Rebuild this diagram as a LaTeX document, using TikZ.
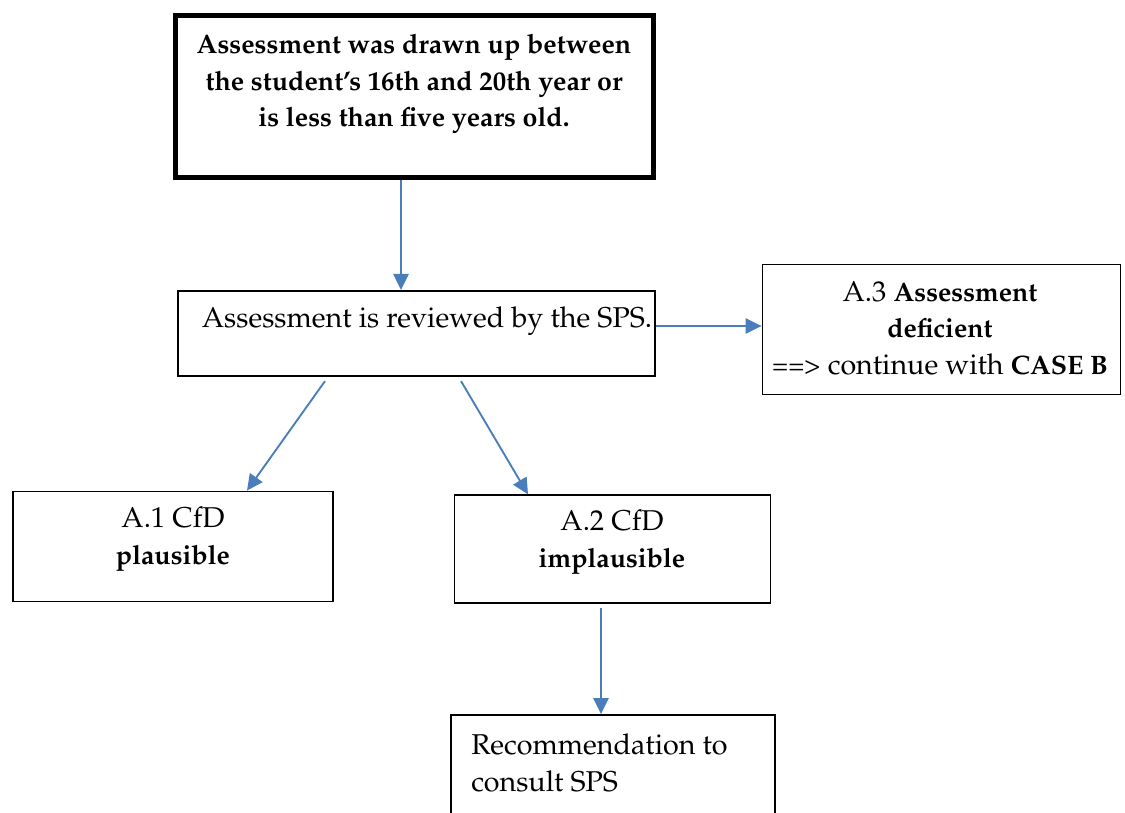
\documentclass[tikz,border=0pt]{standalone}
\usepackage[T1]{fontenc}
\usepackage{mathpazo}
\usepackage{xcolor}
\usetikzlibrary{arrows.meta, positioning, calc}
\definecolor{flowblue}{HTML}{4A7EBB}
\newcommand{\boldtxt}[1]{{\fontsize{20}{27.4}\selectfont\bfseries #1}}

\begin{document}
\begin{tikzpicture}[
    x=0.75pt, y=-0.75pt,
    box/.style={draw, rectangle, line width=1.4pt, inner sep=0pt},
    bigBox/.style={draw, rectangle, line width=3.6pt, inner sep=0pt},
    txt/.style={inner sep=0pt, align=center, font=\fontsize{21.5}{27.4}\selectfont},
    flow/.style={draw=flowblue, line width=1.4pt, -{Triangle[length=12pt, width=11.5pt]}}
]
    \useasboundingbox (0,0) rectangle (1125,813);

    % Boxes
    \node[bigBox, minimum width=358.5pt, minimum height=121.5pt] (assessTop) at (414.5,96.5) {};
    \node[box, minimum width=358pt, minimum height=64pt] (reviewBox) at (416.5,333.5) {};
    \node[box, minimum width=268.5pt, minimum height=97.5pt] (deficientBox) at (941.5,329.5) {};
    \node[box, minimum width=240.5pt, minimum height=82.5pt] (plausibleBox) at (173,546.5) {};
    \node[box, minimum width=237pt, minimum height=80.5pt] (implausibleBox) at (612.5,549) {};
    \node[box, minimum width=243pt, minimum height=97.5pt] (consultBox) at (613,780) {};

    % Texts
    \node[txt, font=\fontsize{20.1}{27.4}\selectfont\bfseries] (assessTopTxt) at (414,84)
        {Assessment was drawn up between\\the student's 16th and 20th year or\\is less than five years old.};
    \node[txt] (reviewTxt) at (427,321) {Assessment is reviewed by the SPS.};
    \node[txt] (deficientTxt) at (940,328)
        {A.3 \boldtxt{Assessment}\\\boldtxt{deficient}\\{\fontsize{20}{27.4}\selectfont==>} continue with \boldtxt{CASE B}};
    \node[txt] (plausibleTxt) at (173,539) {A.1 CfD\\\boldtxt{plausible}};
    \node[txt] (implausibleTxt) at (612,542) {A.2 CfD\\\boldtxt{implausible}};
    \node[txt, align=left, anchor=west] (consultTxt) at (471,763) {Recommendation to\\consult SPS};

    % Connections
    \draw[flow] ($(assessTop.south)+(-13.5,0)$) -- ($(reviewBox.north)+(-15.5,0)$);
    \draw[flow] ($(reviewBox.east)+(0,-7.5)$) -- ($(deficientBox.west)+(0,-3.5)$);
    \draw[flow] ($(reviewBox.south)+(-91.5,4)$) -- ($(plausibleBox.north)+(74,0)$);
    \draw[flow] ($(reviewBox.south)+(44.5,4)$) -- ($(implausibleBox.north)+(-84.5,0)$);
    \draw[flow] ($(implausibleBox.south)+(-11.5,4)$) -- ($(consultBox.north)+(-12,0)$);

\end{tikzpicture}
\end{document}
